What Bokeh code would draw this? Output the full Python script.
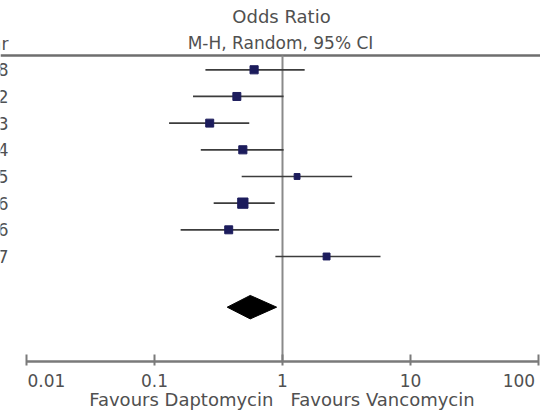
import math
from bokeh.plotting import figure
from bokeh.models import Range1d, FixedTicker, ColumnDataSource, CustomJSTickFormatter
from bokeh.core.properties import value
from bokeh.embed import file_html
from bokeh.resources import INLINE

# ---- data ----
years = ["2008", "2012", "2013", "2014", "2015", "2016", "2016", "2017"]
odds_ratio = [0.60, 0.44, 0.27, 0.49, 1.30, 0.49, 0.38, 2.21]
ci_lower = [0.25, 0.20, 0.13, 0.23, 0.48, 0.29, 0.16, 0.88]
ci_upper = [1.49, 1.02, 0.55, 1.02, 3.50, 0.87, 0.94, 5.83]
weights = [12.5, 12.0, 12.0, 12.5, 6.5, 20.0, 12.0, 9.0]
pooled = [0.37, 0.56, 0.90]  # lower, estimate, upper
tick_values = [0.01, 0.1, 1, 10, 100]
tick_labels = ["0.01", "0.1", "1", "10", "100"]
title_lines = ["Odds Ratio", "M-H, Random, 95% CI"]
column_header = "Year"
favours = ["Favours Daptomycin", "Favours Vancomycin"]

FONT = "DejaVu Sans"
TXT = "#505050"
nb = "\u00a0"

rows = list(range(len(years)))
sizes = [2.3 * math.sqrt(w) for w in weights]
col_x = 10 ** -2.1406

p = figure(width=540, height=413, x_axis_type="log",
           x_range=Range1d(10 ** -2.203, 10 ** 2.0156),
           y_range=Range1d(10.937, -2.598),
           output_backend="svg", toolbar_location=None,
           min_border=0, min_border_left=0, min_border_right=0,
           min_border_top=0, min_border_bottom=52,
           y_axis_location=None, x_axis_location="below")
p.outline_line_color = None
p.xgrid.visible = False
p.ygrid.visible = False
p.background_fill_color = "white"
p.border_fill_color = "white"

# ---- x axis ----
ax = p.xaxis[0]
ax.ticker = FixedTicker(ticks=tick_values, minor_ticks=[])
ax.bounds = (tick_values[0], tick_values[-1])
padded = list(tick_labels)
padded[0] = nb * 5 + tick_labels[0]
padded[-1] = tick_labels[-1] + nb * 1
ax.formatter = CustomJSTickFormatter(args=dict(vals=tick_values, labs=padded), code="""
const i = vals.findIndex(v => Math.abs(Math.log10(v) - Math.log10(tick)) < 1e-6);
return i >= 0 ? labs[i] : '';
""")
ax.axis_line_color = "#7a7a7a"
ax.axis_line_width = 2.5
ax.major_tick_line_color = "#7a7a7a"
ax.major_tick_line_width = 2
ax.major_tick_in = 7
ax.major_tick_out = 4
ax.minor_tick_line_color = None
ax.major_label_text_font = FONT
ax.major_label_text_font_size = "17px"
ax.major_label_text_color = TXT
ax.major_label_standoff = 5
ax.axis_label = nb * 4 + favours[0] + nb * 3 + favours[1]
ax.axis_label_text_font = FONT
ax.axis_label_text_font_size = "18px"
ax.axis_label_text_font_style = "normal"
ax.axis_label_text_color = TXT
ax.axis_label_standoff = -5

# ---- header line and line of no effect ----
p.segment(x0=[p.x_range.start], x1=[p.x_range.end], y0=[-0.54], y1=[-0.54],
          line_color="#6e6e6e", line_width=2.5)
p.segment(x0=[1], x1=[1], y0=[-0.54], y1=[p.y_range.start],
          line_color="#8a8a8a", line_width=2)

# ---- study rows ----
src = ColumnDataSource(dict(y=rows, est=odds_ratio, lo=ci_lower, hi=ci_upper,
                            size=sizes, year=years, cx=[col_x] * len(years)))
p.segment(x0="lo", x1="hi", y0="y", y1="y", source=src,
          line_color="#3c3c3c", line_width=1.7)
p.scatter(x="est", y="y", size="size", marker="square", source=src,
          fill_color="#1c1c5c", line_color="#1c1c5c")

# pooled diamond
dy = len(years) + 0.9
p.patch(x=[pooled[0], pooled[1], pooled[2], pooled[1]],
        y=[dy, dy - 0.44, dy, dy + 0.44],
        fill_color="black", line_color="black")

# ---- texts ----
p.text(x="cx", y="y", text="year", source=src,
       text_align="right", text_baseline="middle",
       text_font=value(FONT), text_font_size="17px", text_color=TXT)
p.text(x=[col_x], y=[-0.95], text=[column_header], text_align="right",
       text_baseline="middle", text_font=value(FONT), text_font_size="17px",
       text_color=TXT)
p.text(x=[1], y=[-2.0], text=title_lines[:1], x_offset=-1,
       text_align="center", text_baseline="middle",
       text_font=value(FONT), text_font_size=value("18px"), text_color=TXT)
p.text(x=[1], y=[-1.02], text=title_lines[1:], x_offset=-2,
       text_align="center", text_baseline="middle",
       text_font=value(FONT), text_font_size=value("17px"), text_color=TXT)

open("out.html", "w").write(file_html(p, INLINE))
